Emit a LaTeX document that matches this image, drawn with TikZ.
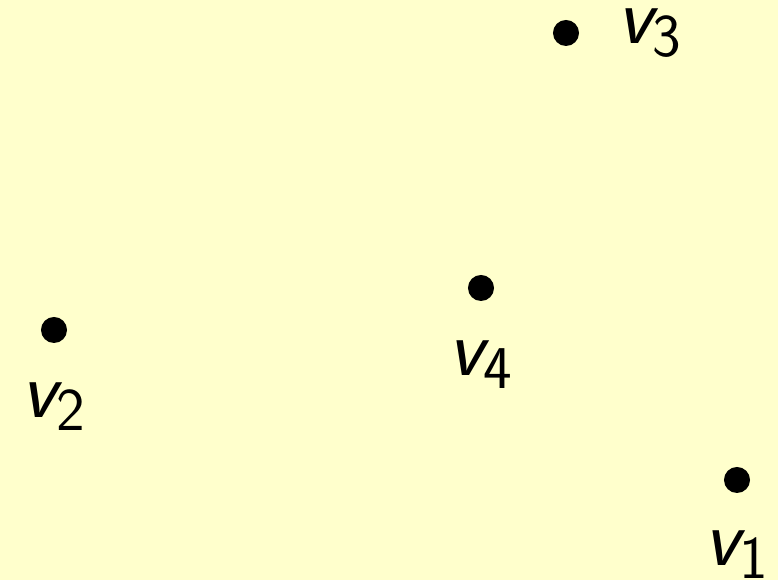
\documentclass[tikz,border=0pt]{standalone}
\usepackage{tikz}
\usetikzlibrary{positioning}
\definecolor{bgyellow}{RGB}{255,255,204}
\newcommand{\vlab}[1]{{\sffamily\itshape v}$_{\mathsf{#1}}$}

\begin{document}
\begin{tikzpicture}[
  x=0.01cm,y=-0.01cm,
  dot/.style={circle,fill=black,inner sep=0pt,minimum size=0.26cm},
  lbl/.style={font=\fontsize{23}{27}\selectfont,inner sep=0pt},
]

% background
\fill[bgyellow] (0,0) rectangle (778,580);

% vertices
\node[dot] (p3) at (566,33)  {};
\node[dot] (p4) at (481,288) {};
\node[dot] (p2) at (54,330)  {};
\node[dot] (p1) at (737,480) {};

% labels
\node[lbl,right=0.37cm of p3] (l3) {\vlab{3}};
\node[lbl,below=0.38cm of p4] (l4) {\vlab{4}};
\node[lbl,below=0.38cm of p2] (l2) {\vlab{2}};
\node[lbl,below=0.36cm of p1] (l1) {\vlab{1}};

\end{tikzpicture}
\end{document}
